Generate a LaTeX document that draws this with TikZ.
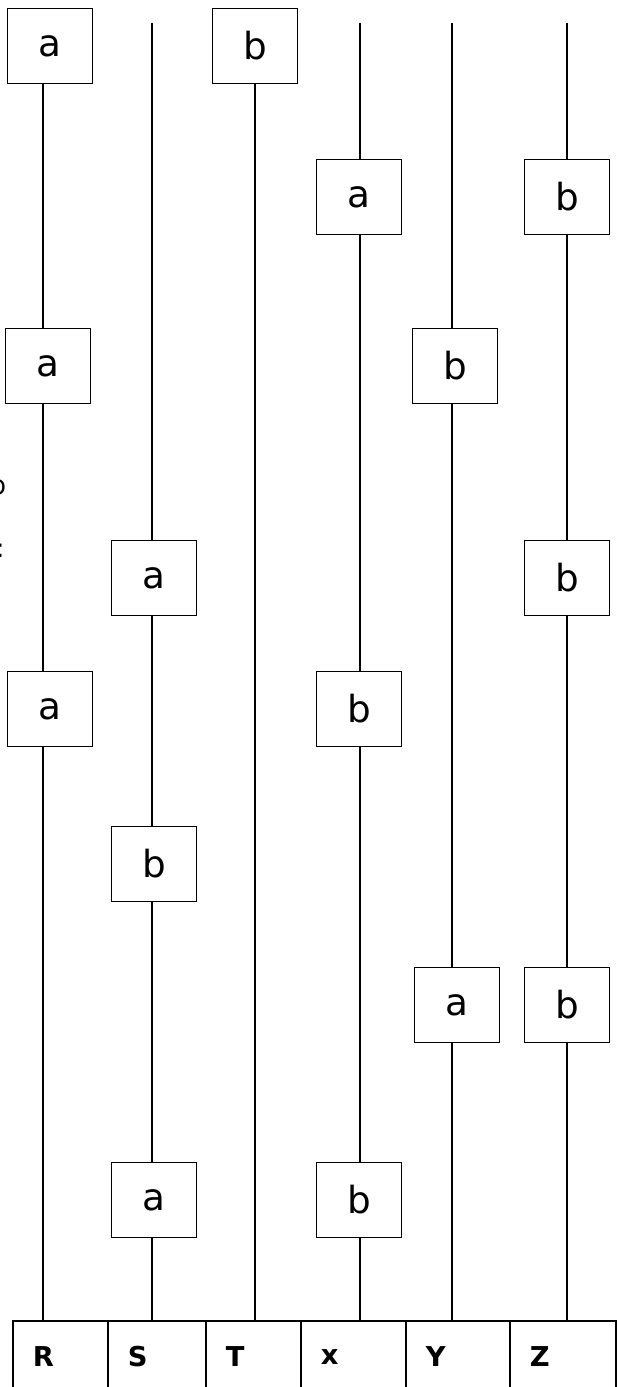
\documentclass[tikz,border=0pt]{standalone}
\usepackage{fontspec}
\setmainfont{DejaVu Sans}

\tikzset{every picture/.style={line width=1.2pt}}
\tikzset{
  letterbox/.style={draw, fill=white, minimum width=63.75pt, minimum height=56.25pt, inner sep=0pt, font=\fontsize{28}{30}\selectfont},
  cell/.style={draw, anchor=north west, minimum height=54pt, inner xsep=15pt, inner ysep=0pt, align=left, text width=#1, font=\fontsize{20.5}{22}\selectfont\bfseries},
  cutoff/.style={inner sep=0pt, font=\fontsize{19.5}{22}\selectfont}
}

\begin{document}
\begin{tikzpicture}[x=0.75pt,y=0.75pt,yscale=-1,xscale=1]
    \clip (0,0) rectangle (617,1387);

    % Column lines
    \coordinate (lR) at (43,0);
    \coordinate (tS) at (152,23);
    \coordinate (lT) at (255,0);
    \coordinate (tX) at (360,23);
    \coordinate (tY) at (452,23);
    \coordinate (tZ) at (567,23);

    % Table cells
    \node[cell=41.25pt] (cR) at (12,1320) {R};
    \node[cell=43.5pt] (cS) at (107,1320) {S};
    \node[cell=41.25pt] (cT) at (205,1320) {T};
    \node[cell=48.75pt] (cX) at (300,1320) {x};
    \node[cell=48pt] (cY) at (405,1320) {Y};
    \node[cell=49.5pt] (cZ) at (509,1320) {Z};

    % Text Node
    \node[letterbox] (R1) at (50,46) {a};
    \node[letterbox] (T1) at (255,46) {b};
    \node[letterbox] (X1) at (359,197) {a};
    \node[letterbox] (Z1) at (567,197) {b};
    \node[letterbox] (R2) at (48,366) {a};
    \node[letterbox] (Y1) at (455,366) {b};
    \node[letterbox] (S1) at (154,578) {a};
    \node[letterbox] (Z2) at (567,578) {b};
    \node[letterbox] (R3) at (50,709) {a};
    \node[letterbox] (X2) at (359,709) {b};
    \node[letterbox] (S2) at (154,864) {b};
    \node[letterbox] (Y2) at (457,1005) {a};
    \node[letterbox] (Z3) at (567,1005) {b};
    \node[letterbox] (S3) at (154,1200) {a};
    \node[letterbox] (X3) at (359,1200) {b};

    % Text Node (cut at the left edge)
    \node[cutoff, anchor=base east] (cut1) at (7,494) {b};
    \node[cutoff, anchor=base east] (cut2) at (5.5,557) {:};

    %Straight Lines R
    \draw (lR |- R1.south) -- (lR |- R2.north);
    \draw (lR |- R2.south) -- (lR |- R3.north);
    \draw (lR |- R3.south) -- (lR |- cR.north);
    %Straight Lines S
    \draw (tS) -- (tS |- S1.north);
    \draw (tS |- S1.south) -- (tS |- S2.north);
    \draw (tS |- S2.south) -- (tS |- S3.north);
    \draw (tS |- S3.south) -- (tS |- cS.north);
    %Straight Lines T
    \draw (lT |- T1.south) -- (lT |- cT.north);
    %Straight Lines x
    \draw (tX) -- (tX |- X1.north);
    \draw (tX |- X1.south) -- (tX |- X2.north);
    \draw (tX |- X2.south) -- (tX |- X3.north);
    \draw (tX |- X3.south) -- (tX |- cX.north);
    %Straight Lines Y
    \draw (tY) -- (tY |- Y1.north);
    \draw (tY |- Y1.south) -- (tY |- Y2.north);
    \draw (tY |- Y2.south) -- (tY |- cY.north);
    %Straight Lines Z
    \draw (tZ) -- (tZ |- Z1.north);
    \draw (tZ |- Z1.south) -- (tZ |- Z2.north);
    \draw (tZ |- Z2.south) -- (tZ |- Z3.north);
    \draw (tZ |- Z3.south) -- (tZ |- cZ.north);
\end{tikzpicture}
\end{document}
